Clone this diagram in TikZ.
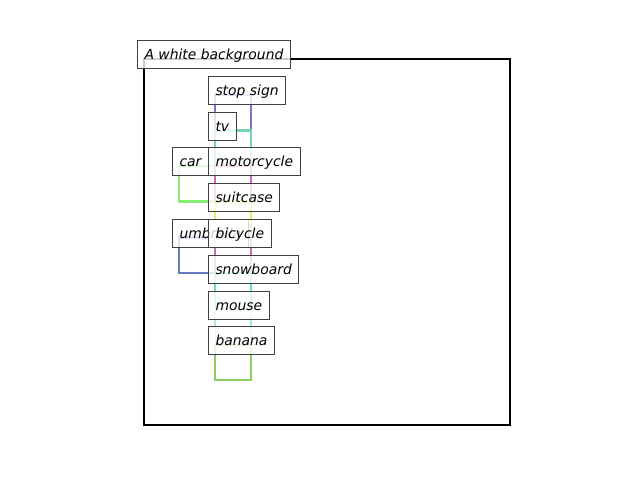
\documentclass[tikz,border=0pt]{standalone}
\usepackage{xcolor}
\usepackage{fontspec}
\setmainfont{DejaVu Sans}
\definecolor{boxedge}{HTML}{404040}
\definecolor{cStop}{HTML}{7F72C8}
\definecolor{cTv}{HTML}{72D4B4}
\definecolor{cCar}{HTML}{86EC74}
\definecolor{cMoto}{HTML}{D466BC}
\definecolor{cCase}{HTML}{ECEC58}
\definecolor{cUmb}{HTML}{6478C0}
\definecolor{cBike}{HTML}{C474AC}
\definecolor{cBoard}{HTML}{64E8A0}
\definecolor{cMouse}{HTML}{A4F0E0}
\definecolor{cBan}{HTML}{8CD064}
\tikzset{
  lbl/.style={draw=boxedge,line width=1pt,fill=white,fill opacity=0.8,text opacity=1,
    anchor=west,inner xsep=7pt,inner ysep=0pt,text height=12.5pt,text depth=1.5pt,
    minimum height=28pt,font=\fontsize{13.9}{16}\selectfont\itshape},
  objbox/.style={line width=2.3pt}
}

\begin{document}
\begin{tikzpicture}[x=1pt,y=-1pt]
   \useasboundingbox (0,0) rectangle (640,480);
   \draw[line width=2pt] (144,59) rectangle (510,425);
   % object boxes
   \draw[objbox,cStop] (215,95) rectangle (251,130.5);
   \draw[objbox,cTv] (215,130.5) rectangle (251,166);
   \draw[objbox,cCar] (179,166) rectangle (215,201.5);
   \draw[objbox,cMoto] (215,166) rectangle (251,201.5);
   \draw[objbox,cCase] (215,201.5) rectangle (251,237.5);
   \draw[objbox,cUmb] (179,237.5) rectangle (215,273);
   \draw[objbox,cBike] (215,237.5) rectangle (251,273);
   \draw[objbox,cBoard] (215,273) rectangle (251,309);
   \draw[objbox,cMouse] (215,309) rectangle (251,345);
   \draw[objbox,cBan] (215,345) rectangle (251,380);
   % labels
   \node[lbl](bg) at (137,54){A white background};
   \node[lbl](stop) at (208,90){stop sign};
   \node[lbl](tv) at (208,126){tv};
   \node[lbl](car) at (172,161){car};
   \node[lbl](moto) at (208,161){motorcycle};
   \node[lbl](case) at (208,197){suitcase};
   \node[lbl](umb) at (172,233){umbrella};
   \node[lbl](bike) at (208,233){bicycle};
   \node[lbl](board) at (208,269){snowboard};
   \node[lbl](mouse) at (208,305){mouse};
   \node[lbl](ban) at (208,340){banana};
\end{tikzpicture}
\end{document}
